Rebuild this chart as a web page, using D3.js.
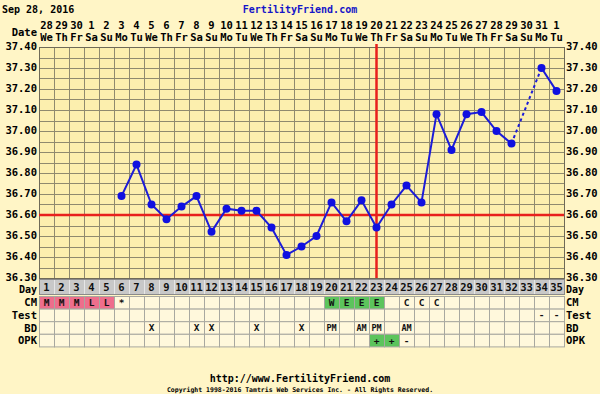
<!DOCTYPE html>
<html><head><meta charset="utf-8">
<script src="https://cdn.jsdelivr.net/npm/d3@7/dist/d3.min.js"></script>
<style>
html,body{margin:0;padding:0;background:#fff5c6;}
svg{display:block;}
text{font-family:"DejaVu Sans Mono",monospace;font-weight:bold;}
</style></head><body>
<svg id="c" width="600" height="394"></svg>
<script>
const dayNumbers = [1,2,3,4,5,6,7,8,9,10,11,12,13,14,15,16,17,18,19,20,21,22,23,24,25,26,27,28,29,30,31,32,33,34,35];
const dates = ["28","29","30","1","2","3","4","5","6","7","8","9","10","11","12","13","14","15","16","17","18","19","20","21","22","23","24","25","26","27","28","29","30","31","1"];
const weekdays = ["We","Th","Fr","Sa","Su","Mo","Tu","We","Th","Fr","Sa","Su","Mo","Tu","We","Th","Fr","Sa","Su","Mo","Tu","We","Th","Fr","Sa","Su","Mo","Tu","We","Th","Fr","Sa","Su","Mo","Tu"];
const temps = [null,null,null,null,null,36.69,36.84,36.65,36.58,36.64,36.69,36.52,36.63,36.62,36.62,36.54,36.41,36.45,36.50,36.66,36.57,36.67,36.54,36.65,36.74,36.66,37.08,36.91,37.08,37.09,37.00,36.94,null,37.30,37.19];
const yTicks = [36.30,36.40,36.50,36.60,36.70,36.80,36.90,37.00,37.10,37.20,37.30,37.40];
const coverline = 36.60;
const ovulationDay = 23;
const cmEntries = [{day:1,t:"M",fill:"pink"},{day:2,t:"M",fill:"pink"},{day:3,t:"M",fill:"pink"},{day:4,t:"L",fill:"pink"},{day:5,t:"L",fill:"pink"},{day:6,t:"*",fill:""},{day:20,t:"W",fill:"green"},{day:21,t:"E",fill:"green"},{day:22,t:"E",fill:"green"},{day:23,t:"E",fill:"green"},{day:25,t:"C",fill:""},{day:26,t:"C",fill:""},{day:27,t:"C",fill:""}];
const testEntries = [{day:34,t:"-",fill:""},{day:35,t:"-",fill:""}];
const bdEntries = [{day:8,t:"X"},{day:11,t:"X"},{day:12,t:"X"},{day:15,t:"X"},{day:18,t:"X"},{day:20,t:"PM"},{day:22,t:"AM"},{day:23,t:"PM"},{day:25,t:"AM"}];
const opkEntries = [{day:23,t:"+",fill:"green"},{day:24,t:"+",fill:"green"},{day:25,t:"-",fill:""}];
const rowNames = ["CM","Test","BD","OPK"];

const svg = d3.select("#c");
const L = 39, R = 564, T = 47, B = 278;
const x = d3.scaleBand().domain(dayNumbers).range([L, R]);
const y = d3.scaleLinear().domain([36.3, 37.4]).range([B, T]);
const cx = d => x(d) + x.bandwidth()/2;
const fills = {pink:"#ee6e8c", green:"#5cc45c"};

// header
svg.append("text").attr("x",2).attr("y",13).attr("font-size",10).attr("fill","#000").text("Sep 28, 2016");
svg.append("text").attr("x",300).attr("y",13).attr("text-anchor","middle").attr("font-size",10).attr("fill","#1515c8").text("FertilityFriend.com");
svg.append("text").attr("x",37).attr("y",36).attr("text-anchor","end").attr("font-size",10.5).text("Date");
svg.selectAll(".dt").data(dayNumbers).enter().append("text")
  .attr("x",d=>cx(d)).attr("y",29).attr("text-anchor","middle").attr("font-size",10.5).text((d,i)=>dates[i]);
svg.selectAll(".wd").data(dayNumbers).enter().append("text")
  .attr("x",d=>cx(d)).attr("y",41).attr("text-anchor","middle").attr("font-size",10.5).text((d,i)=>weekdays[i]);

// plot background
svg.append("rect").attr("x",L).attr("y",T).attr("width",R-L).attr("height",B-T).attr("fill","#fcefae");
// grid
const hLines = d3.range(36.3, 37.4001, 0.05);
svg.selectAll(".hg").data(hLines).enter().append("line")
  .attr("x1",L).attr("x2",R).attr("y1",d=>Math.round(y(d))+0.5).attr("y2",d=>Math.round(y(d))+0.5)
  .attr("stroke","#8f8a6e").attr("stroke-width",1);
svg.selectAll(".vg").data(dayNumbers).enter().append("line")
  .attr("x1",d=>Math.round(x(d))+0.5).attr("x2",d=>Math.round(x(d))+0.5).attr("y1",T).attr("y2",B)
  .attr("stroke","#8f8a6e").attr("stroke-width",1);
svg.append("rect").attr("x",L+0.5).attr("y",T+0.5).attr("width",R-L).attr("height",B-T).attr("fill","none").attr("stroke","#6f6a58");

// y labels
svg.selectAll(".yl").data(yTicks).enter().append("text")
  .attr("x",37).attr("y",d=>y(d)+3).attr("text-anchor","end").attr("font-size",10.5).text(d=>d.toFixed(2));
svg.selectAll(".yr").data(yTicks).enter().append("text")
  .attr("x",566).attr("y",d=>y(d)+3).attr("font-size",10.5).text(d=>d.toFixed(2));

// coverline and ovulation
svg.append("line").attr("x1",L).attr("x2",R).attr("y1",y(coverline)).attr("y2",y(coverline)).attr("stroke","#e8201c").attr("stroke-width",2.5);
svg.append("line").attr("x1",cx(ovulationDay)).attr("x2",cx(ovulationDay)).attr("y1",44).attr("y2",B).attr("stroke","#e8201c").attr("stroke-width",2.5);

// temperature line
const pts = dayNumbers.map((d,i)=>({d, t:temps[i]}));
const line = d3.line().defined(p=>p.t!=null).x(p=>cx(p.d)).y(p=>y(p.t));
svg.append("path").datum(pts).attr("d",line).attr("fill","none").attr("stroke","#1c1cd8").attr("stroke-width",2);
// dashed across gaps
const valid = pts.filter(p=>p.t!=null);
const gaps = [];
for (let i=1;i<valid.length;i++) if (valid[i].d - valid[i-1].d > 1) gaps.push([valid[i-1], valid[i]]);
svg.selectAll(".gap").data(gaps).enter().append("path")
  .attr("d",g=>d3.line().x(p=>cx(p.d)).y(p=>y(p.t))(g))
  .attr("fill","none").attr("stroke","#1c1cd8").attr("stroke-width",2).attr("stroke-dasharray","3,3");
svg.selectAll(".pt").data(valid).enter().append("circle")
  .attr("cx",p=>cx(p.d)).attr("cy",p=>y(p.t)).attr("r",4).attr("fill","#1010e0");

// Day row
const dayTop = 279, dayH = 15;
svg.selectAll(".dc").data(dayNumbers).enter().append("rect")
  .attr("x",d=>x(d)+0.5).attr("y",dayTop+0.5).attr("width",x.bandwidth()).attr("height",dayH)
  .attr("fill","#c8c8c8").attr("stroke","#e6e6e6");
svg.append("rect").attr("x",L+0.5).attr("y",dayTop+0.5).attr("width",R-L).attr("height",dayH).attr("fill","none").attr("stroke","#8a8a8a");
svg.selectAll(".dn").data(dayNumbers).enter().append("text")
  .attr("x",d=>cx(d)).attr("y",dayTop+12).attr("text-anchor","middle").attr("font-size",10.5).attr("fill","#101010").text(d=>d);
svg.append("text").attr("x",37).attr("y",dayTop+13.5).attr("text-anchor","end").attr("font-size",10).text("Day");
svg.append("text").attr("x",566).attr("y",dayTop+13.5).attr("font-size",10).text("Day");

// other rows
const rowTop = 296, rowH = 12.6;
const rowData = [cmEntries, testEntries, bdEntries, opkEntries];
rowNames.forEach((name, r) => {
  const ry = rowTop + r*rowH;
  const g = svg.append("g");
  g.selectAll("rect").data(dayNumbers).enter().append("rect")
    .attr("x",d=>x(d)+0.5).attr("y",ry+0.5).attr("width",x.bandwidth()).attr("height",rowH)
    .attr("fill",d=>{const e=rowData[r].find(v=>v.day===d); return e&&e.fill?fills[e.fill]:"#fff8dc";})
    .attr("stroke","#a8a8a0");
  g.selectAll("text").data(rowData[r]).enter().append("text")
    .attr("x",e=>cx(e.day)).attr("y",ry+rowH/2+3.5).attr("text-anchor","middle")
    .attr("font-size",e=>e.t.length>1?8.5:9.5).attr("fill","#111").text(e=>e.t);
  svg.append("text").attr("x",37).attr("y",ry+rowH/2+4).attr("text-anchor","end").attr("font-size",10.5).text(name);
  svg.append("text").attr("x",566).attr("y",ry+rowH/2+4).attr("font-size",10.5).text(name);
});

// footer
svg.append("text").attr("x",300).attr("y",382).attr("text-anchor","middle").attr("font-size",10).text("http://www.FertilityFriend.com");
svg.append("text").attr("x",300).attr("y",392).attr("text-anchor","middle").attr("font-size",6.5).attr("font-weight","normal").text("Copyright 1998-2016 Tamtris Web Services Inc. - All Rights Reserved.");
</script>
</body></html>
